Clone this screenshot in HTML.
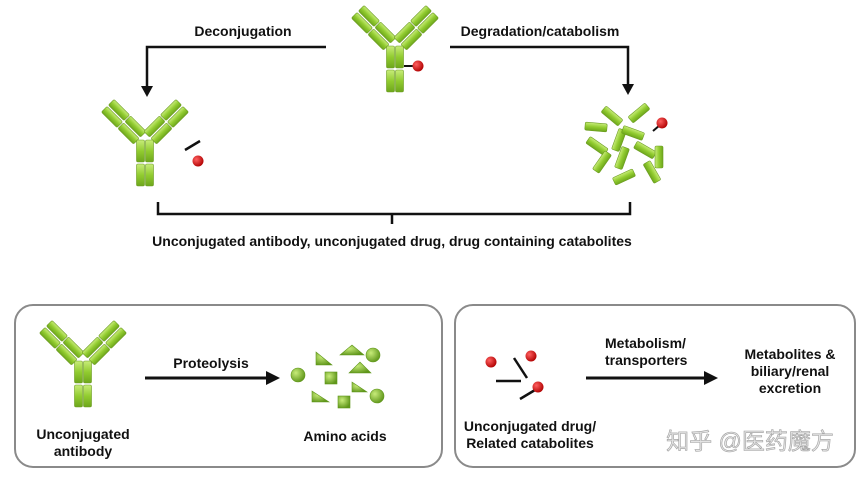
<!DOCTYPE html>
<html><head><meta charset="utf-8"><style>
html,body{margin:0;padding:0;background:#fff;}
svg text{font-family:"Liberation Sans","Noto Sans CJK SC",sans-serif;font-weight:bold;fill:#111;}
</style></head><body>
<svg width="864" height="479" viewBox="0 0 864 479" xmlns="http://www.w3.org/2000/svg">
<defs>
<linearGradient id="g" x1="0" y1="0" x2="0" y2="1">
<stop offset="0" stop-color="#c8ec7a"/><stop offset="0.5" stop-color="#92cc30"/><stop offset="1" stop-color="#6da61c"/></linearGradient>
<radialGradient id="r" cx="0.35" cy="0.35" r="0.7"><stop offset="0" stop-color="#ff6060"/><stop offset="1" stop-color="#b00000"/></radialGradient>
<radialGradient id="gb" cx="0.35" cy="0.35" r="0.7"><stop offset="0" stop-color="#c8ec7a"/><stop offset="1" stop-color="#5f961a"/></radialGradient>
<rect id="seg" x="-11" y="-4" width="22" height="8" rx="1.5" fill="url(#g)" stroke="#6c9c22" stroke-width="0.6"/>
<g id="ab">
<use href="#seg" transform="translate(19,13) rotate(45)"/>
<use href="#seg" transform="translate(12,20) rotate(45)"/>
<use href="#seg" transform="translate(35.5,29.5) rotate(45)"/>
<use href="#seg" transform="translate(28.5,36.5) rotate(45)"/>
<use href="#seg" transform="translate(71,13) rotate(-45)"/>
<use href="#seg" transform="translate(78,20) rotate(-45)"/>
<use href="#seg" transform="translate(54.5,29.5) rotate(-45)"/>
<use href="#seg" transform="translate(61.5,36.5) rotate(-45)"/>
<rect x="36.5" y="43" width="8" height="22" rx="1.5" fill="url(#g)" stroke="#6c9c22" stroke-width="0.6"/>
<rect x="45.5" y="43" width="8" height="22" rx="1.5" fill="url(#g)" stroke="#6c9c22" stroke-width="0.6"/>
<rect x="36.5" y="67" width="8" height="22" rx="1.5" fill="url(#g)" stroke="#6c9c22" stroke-width="0.6"/>
<rect x="45.5" y="67" width="8" height="22" rx="1.5" fill="url(#g)" stroke="#6c9c22" stroke-width="0.6"/>
</g>
</defs>

<use href="#ab" transform="translate(350,3)"/>
<line x1="404" y1="66" x2="413" y2="66" stroke="#111" stroke-width="2"/>
<circle cx="418" cy="66" r="5.5" fill="url(#r)"/>

<text x="243" y="36" font-size="14" text-anchor="middle">Deconjugation</text>
<text x="540" y="36" font-size="14" text-anchor="middle">Degradation/catabolism</text>
<polyline points="326,47 147,47 147,88" fill="none" stroke="#111" stroke-width="2.5"/>
<polygon points="141,86 153,86 147,97" fill="#111"/>
<polyline points="450,47 628,47 628,86" fill="none" stroke="#111" stroke-width="2.5"/>
<polygon points="622,84 634,84 628,95" fill="#111"/>

<use href="#ab" transform="translate(100,97)"/>
<line x1="185" y1="150" x2="200" y2="141" stroke="#111" stroke-width="2.5"/>
<circle cx="198" cy="161" r="5.5" fill="url(#r)"/>

<g>
<use href="#seg" transform="translate(612,116) rotate(40)"/>
<use href="#seg" transform="translate(639,113) rotate(-40)"/>
<use href="#seg" transform="translate(596,127) rotate(5)"/>
<use href="#seg" transform="translate(619,140) rotate(-70)"/>
<use href="#seg" transform="translate(633,133) rotate(20)"/>
<use href="#seg" transform="translate(597,146) rotate(35)"/>
<use href="#seg" transform="translate(622,158) rotate(-70)"/>
<use href="#seg" transform="translate(645,150) rotate(30)"/>
<use href="#seg" transform="translate(659,157) rotate(-90)"/>
<use href="#seg" transform="translate(602,162) rotate(-55)"/>
<use href="#seg" transform="translate(652,172) rotate(60)"/>
<use href="#seg" transform="translate(624,177) rotate(-25)"/>
</g>
<line x1="653" y1="131" x2="660" y2="125" stroke="#111" stroke-width="2"/>
<circle cx="662" cy="123" r="5.5" fill="url(#r)"/>

<path d="M158,202 V214 H630 V202 M392,214 V224" fill="none" stroke="#111" stroke-width="2.5"/>
<text x="392" y="246" font-size="14" text-anchor="middle">Unconjugated antibody, unconjugated drug, drug containing catabolites</text>

<rect x="15" y="305" width="427" height="162" rx="18" fill="none" stroke="#8a8a8a" stroke-width="2"/>
<use href="#ab" transform="translate(38,318)"/>
<text x="83" y="439" font-size="14" text-anchor="middle">Unconjugated</text>
<text x="83" y="456" font-size="14" text-anchor="middle">antibody</text>
<text x="211" y="368" font-size="14" text-anchor="middle">Proteolysis</text>
<line x1="145" y1="378" x2="268" y2="378" stroke="#111" stroke-width="3"/>
<polygon points="266,371 280,378 266,385" fill="#111"/>
<g fill="url(#gb)" stroke="#5f961a" stroke-width="0.6">
<polygon points="340,355 352,345 364,355"/>
<circle cx="373" cy="355" r="7"/>
<polygon points="316,352 316,365 332,365"/>
<polygon points="349,373 360,362 371,373"/>
<circle cx="298" cy="375" r="7"/>
<rect x="325" y="372" width="12" height="12"/>
<polygon points="352,382 352,392 367,392"/>
<circle cx="377" cy="396" r="7"/>
<polygon points="312,391 312,402 329,402"/>
<rect x="338" y="396" width="12" height="12"/>
</g>
<text x="345" y="441" font-size="14" text-anchor="middle">Amino acids</text>

<rect x="455" y="305" width="400" height="162" rx="18" fill="none" stroke="#8a8a8a" stroke-width="2"/>
<circle cx="491" cy="362" r="5.5" fill="url(#r)"/>
<circle cx="531" cy="356" r="5.5" fill="url(#r)"/>
<line x1="514" y1="358" x2="527" y2="378" stroke="#111" stroke-width="2.5"/>
<line x1="496" y1="381" x2="521" y2="381" stroke="#111" stroke-width="2.5"/>
<line x1="520" y1="399" x2="535" y2="390" stroke="#111" stroke-width="2.5"/>
<circle cx="538" cy="387" r="5.5" fill="url(#r)"/>
<text x="530" y="431" font-size="14" text-anchor="middle">Unconjugated drug/</text>
<text x="530" y="448" font-size="14" text-anchor="middle">Related catabolites</text>
<text x="605" y="348" font-size="14">Metabolism/</text>
<text x="605" y="365" font-size="14">transporters</text>
<line x1="586" y1="378" x2="706" y2="378" stroke="#111" stroke-width="3"/>
<polygon points="704,371 718,378 704,385" fill="#111"/>
<text x="790" y="359" font-size="14" text-anchor="middle">Metabolites &amp;</text>
<text x="790" y="376" font-size="14" text-anchor="middle">biliary/renal</text>
<text x="790" y="393" font-size="14" text-anchor="middle">excretion</text>
<text x="750" y="449" font-size="23" text-anchor="middle" style="font-weight:normal;fill:#e4e4e4;stroke:#a0a0a0;stroke-width:0.6">知乎 @医药魔方</text>
</svg>
</body></html>
